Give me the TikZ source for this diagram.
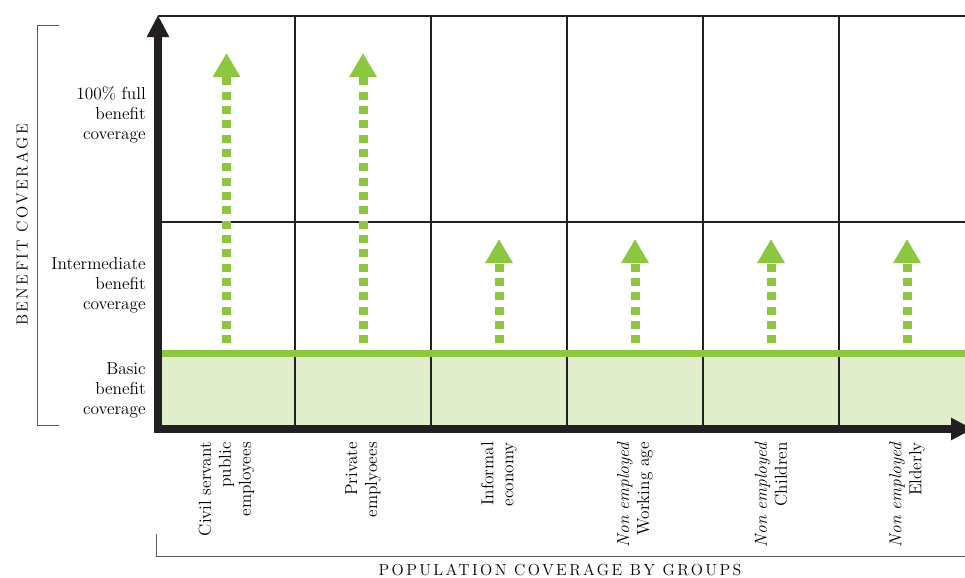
\documentclass[tikz,border=0pt]{standalone}
\usepackage{fontspec}
\newfontfamily\spacedfont[LetterSpace=15]{Latin Modern Roman}
\usetikzlibrary{arrows.meta}
\definecolor{covgreen}{HTML}{8DC63F}
\definecolor{covlight}{HTML}{E0EDCB}
\definecolor{covblack}{HTML}{231F20}
\definecolor{covgray}{HTML}{58595B}
\begin{document}
\begin{tikzpicture}[x=0.75pt,y=-0.75pt]
        \tikzstyle{grid}=[draw=covblack,line width=1.5pt]
        \tikzstyle{axis}=[draw=covblack,line width=6pt,line join=miter,{Triangle[width=15.75pt,length=16.5pt]}-{Triangle[width=15.75pt,length=16.5pt]}]
        \tikzstyle{floor}=[draw=covgreen,line width=5.25pt]
        \tikzstyle{growth}=[draw=covgreen,line width=6.75pt,dash pattern=on 6pt off 4.75pt,-{Triangle[width=19.5pt,length=18pt,sep=3.75pt]}]
        \tikzstyle{level}=[align=right,anchor=east,inner sep=0pt,font=\fontsize{13}{15}\selectfont]
        \tikzstyle{group}=[align=right,anchor=east,rotate=90,inner sep=0pt,font=\fontsize{13}{15}\selectfont]
        \tikzstyle{title}=[inner sep=0pt,font=\spacedfont\fontsize{12}{14}\selectfont]
        \tikzstyle{bracket}=[draw=covgray,line width=0.75pt]
        \useasboundingbox (0,0) rectangle (965,578);
       \begin{scope}
         % basic coverage band and grid
         \fill[covlight] (158,357) rectangle (965,429);
         \draw[grid] (158,16) -- (965,16);
         \draw[grid] (158,222) -- (965,222);
         \foreach \x in {295,431,567,703,839}
           \draw[grid] (\x,16) -- (\x,429);
         \draw[floor] (162,353.5) -- (965,353.5);
         % arrows per group
         \foreach \x/\top [count=\i] in {226.5/48,363/48,499/234,635/234,771/234,907/234} {
           \coordinate (base\i) at (\x,343.3);
           \coordinate (tip\i) at (\x,\top);
           \path[growth] (base\i) -- (tip\i);
         }
         % axes
         \coordinate (ytop) at (158,15);
         \coordinate (origin) at (158,429);
         \coordinate (xend) at (973,429);
         \path[axis] (ytop) -- (origin) -- (xend);
        \end{scope}
       \begin{scope}
         \node [level] (full) at (146,115) {100\% full\\benefit\\coverage};
         \node [level] (mid) at (146,285) {Intermediate\\benefit\\coverage};
         \node [level] (basic) at (146,390) {Basic\\benefit\\coverage};
         \node [group] (g1) at (226.5,442) {Civil servant\\public\\employees};
         \node [group] (g2) at (363,442) {Private\\emplyoees};
         \node [group] (g3) at (499,442) {Informal\\economy};
         \node [group] (g4) at (635,442) {\textit{Non employed}\\Working age};
         \node [group] (g5) at (771,442) {\textit{Non employed}\\Children};
         \node [group] (g6) at (907,442) {\textit{Non employed}\\Elderly};
         \node [title,rotate=90] (ytitle) at (22,225) {BENEFIT COVERAGE};
         \node [title] (xtitle) at (560,569.5) {POPULATION COVERAGE BY GROUPS};
         \draw[bracket] (59,25) -- (37,25) -- (37,425) -- (59,425);
         \draw[bracket] (156,534) -- (156,556) -- (965,556);
        \end{scope}
\end{tikzpicture}
\end{document}
